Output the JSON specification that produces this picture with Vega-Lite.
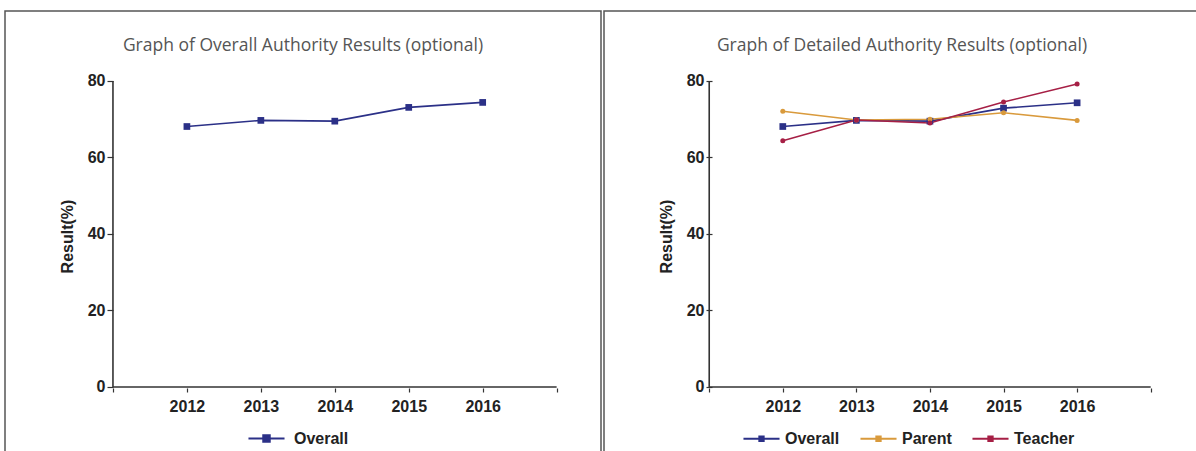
{
  "$schema": "https://vega.github.io/schema/vega-lite/v6.json",
  "padding": {"left": 4, "top": 10, "right": 0, "bottom": 0},
  "background": "white",
  "spacing": 1,
  "resolve": {"scale": {"color": "independent", "x": "independent", "y": "independent"}, "legend": {"color": "independent"}},
  "datasets": {
    "frame": [
      {"year": 2011, "year2": 2017, "value": 0, "value2": 0},
      {"year": 2011, "year2": 2011, "value": 0, "value2": 80}
    ],
    "overall": [
      {"series": "Overall", "year": 2012, "value": 68.1},
      {"series": "Overall", "year": 2013, "value": 69.7},
      {"series": "Overall", "year": 2014, "value": 69.5},
      {"series": "Overall", "year": 2015, "value": 73.1},
      {"series": "Overall", "year": 2016, "value": 74.4}
    ],
    "detailed": [
      {"series": "Overall", "year": 2012, "value": 68.1},
      {"series": "Overall", "year": 2013, "value": 69.7},
      {"series": "Overall", "year": 2014, "value": 69.5},
      {"series": "Overall", "year": 2015, "value": 72.9},
      {"series": "Overall", "year": 2016, "value": 74.3},
      {"series": "Parent", "year": 2012, "value": 72.1},
      {"series": "Parent", "year": 2013, "value": 69.8},
      {"series": "Parent", "year": 2014, "value": 70.0},
      {"series": "Parent", "year": 2015, "value": 71.7},
      {"series": "Parent", "year": 2016, "value": 69.7},
      {"series": "Teacher", "year": 2012, "value": 64.4},
      {"series": "Teacher", "year": 2013, "value": 69.8},
      {"series": "Teacher", "year": 2014, "value": 69.0},
      {"series": "Teacher", "year": 2015, "value": 74.5},
      {"series": "Teacher", "year": 2016, "value": 79.2}
    ]
  },
  "config": {
    "view": {"stroke": "#555", "strokeWidth": 1.5},
    "font": "Liberation Sans",
    "axis": {
      "grid": false,
      "domain": false,
      "tickColor": "#333",
      "tickWidth": 1.2,
      "labelColor": "#222",
      "labelFontSize": 16,
      "labelFontWeight": "bold",
      "titleColor": "#222",
      "titleFontSize": 16,
      "titleFontWeight": "bold"
    },
    "legend": {
      "labelFontSize": 16,
      "labelColor": "#222",
      "labelFontWeight": "bold",
      "labelOffset": 8
    },
    "title": {"font": "Open Sans", "fontSize": 17.5, "fontWeight": "normal", "color": "#555", "anchor": "middle", "frame": "group"}
  },
  "hconcat": [
    {
      "width": 596,
      "height": 450,
      "title": {"text": "Graph of Overall Authority Results (optional)", "offset": -43},
      "encoding": {
        "x": {"field": "year", "type": "quantitative",
          "scale": {"domain": [2009.54, 2017.6], "nice": false, "zero": false},
          "axis": {"orient": "bottom", "offset": -73, "values": [2011, 2012, 2013, 2014, 2015, 2016, 2017], "format": "d",
            "labelExpr": "datum.value == 2011 || datum.value == 2017 ? '' : datum.label", "tickSize": 4, "labelPadding": 6, "title": null}},
        "y": {"field": "value", "type": "quantitative",
          "scale": {"domain": [-19.35, 98.3], "nice": false, "zero": false},
          "axis": {"orient": "left", "offset": -108, "values": [0, 20, 40, 60, 80], "tickSize": 6, "labelPadding": 2, "title": "Result(%)", "titlePadding": 12}}
      },
      "layer": [
        {
          "data": {"name": "frame"},
          "mark": {"type": "rule", "color": "#333", "strokeWidth": 1.6},
          "encoding": {"x2": {"field": "year2"}, "y2": {"field": "value2"}}
        },
        {
          "data": {"name": "overall"},
          "mark": {"type": "line", "strokeWidth": 1.6},
          "encoding": {
            "color": {"field": "series", "type": "nominal",
              "scale": {"domain": ["Overall"], "range": ["#2b3087"]},
              "legend": {"orient": "none", "legendX": 242, "legendY": 408, "direction": "horizontal", "title": null,
                "symbolType": "M-1,0L1,0M-0.18,-0.18L0.18,-0.18L0.18,0.18L-0.18,0.18Z", "symbolSize": 1300, "symbolStrokeWidth": 2}}
          }
        },
        {
          "data": {"name": "overall"},
          "mark": {"type": "point", "shape": "square", "filled": true, "size": 45, "opacity": 1},
          "encoding": {
            "color": {"field": "series", "type": "nominal", "scale": {"domain": ["Overall"], "range": ["#2b3087"]}, "legend": null}
          }
        }
      ]
    },
    {
      "width": 596,
      "height": 450,
      "title": {"text": "Graph of Detailed Authority Results (optional)", "offset": -43},
      "encoding": {
        "x": {"field": "year", "type": "quantitative",
          "scale": {"domain": [2009.57, 2017.67], "nice": false, "zero": false},
          "axis": {"orient": "bottom", "offset": -73, "values": [2011, 2012, 2013, 2014, 2015, 2016, 2017], "format": "d",
            "labelExpr": "datum.value == 2011 || datum.value == 2017 ? '' : datum.label", "tickSize": 4, "labelPadding": 6, "title": null}},
        "y": {"field": "value", "type": "quantitative",
          "scale": {"domain": [-19.35, 98.3], "nice": false, "zero": false},
          "axis": {"orient": "left", "offset": -108, "values": [0, 20, 40, 60, 80], "tickSize": 6, "labelPadding": 2, "title": "Result(%)", "titlePadding": 12}}
      },
      "layer": [
        {
          "data": {"name": "frame"},
          "mark": {"type": "rule", "color": "#333", "strokeWidth": 1.6},
          "encoding": {"x2": {"field": "year2"}, "y2": {"field": "value2"}}
        },
        {
          "data": {"name": "detailed"},
          "mark": {"type": "line", "strokeWidth": 1.6},
          "encoding": {
            "color": {"field": "series", "type": "nominal",
              "scale": {"domain": ["Overall", "Parent", "Teacher"], "range": ["#2b3087", "#d99a3c", "#a61f45"]},
              "legend": {"orient": "none", "legendX": 138, "legendY": 408, "direction": "horizontal", "title": null, "columnPadding": 16, "labelOffset": 4,
                "symbolType": "M-1,0L1,0M-0.12,-0.12L0.12,-0.12L0.12,0.12L-0.12,0.12Z", "symbolSize": 1300, "symbolStrokeWidth": 2}}
          }
        },
        {
          "data": {"name": "detailed"},
          "transform": [{"filter": "datum.series == 'Overall'"}],
          "mark": {"type": "point", "shape": "square", "filled": true, "size": 45, "opacity": 1},
          "encoding": {
            "color": {"field": "series", "type": "nominal", "scale": {"domain": ["Overall", "Parent", "Teacher"], "range": ["#2b3087", "#d99a3c", "#a61f45"]}, "legend": null}
          }
        },
        {
          "data": {"name": "detailed"},
          "transform": [{"filter": "datum.series != 'Overall'"}],
          "mark": {"type": "point", "shape": "circle", "filled": true, "size": 25, "opacity": 1},
          "encoding": {
            "color": {"field": "series", "type": "nominal", "scale": {"domain": ["Overall", "Parent", "Teacher"], "range": ["#2b3087", "#d99a3c", "#a61f45"]}, "legend": null}
          }
        }
      ]
    }
  ]
}
